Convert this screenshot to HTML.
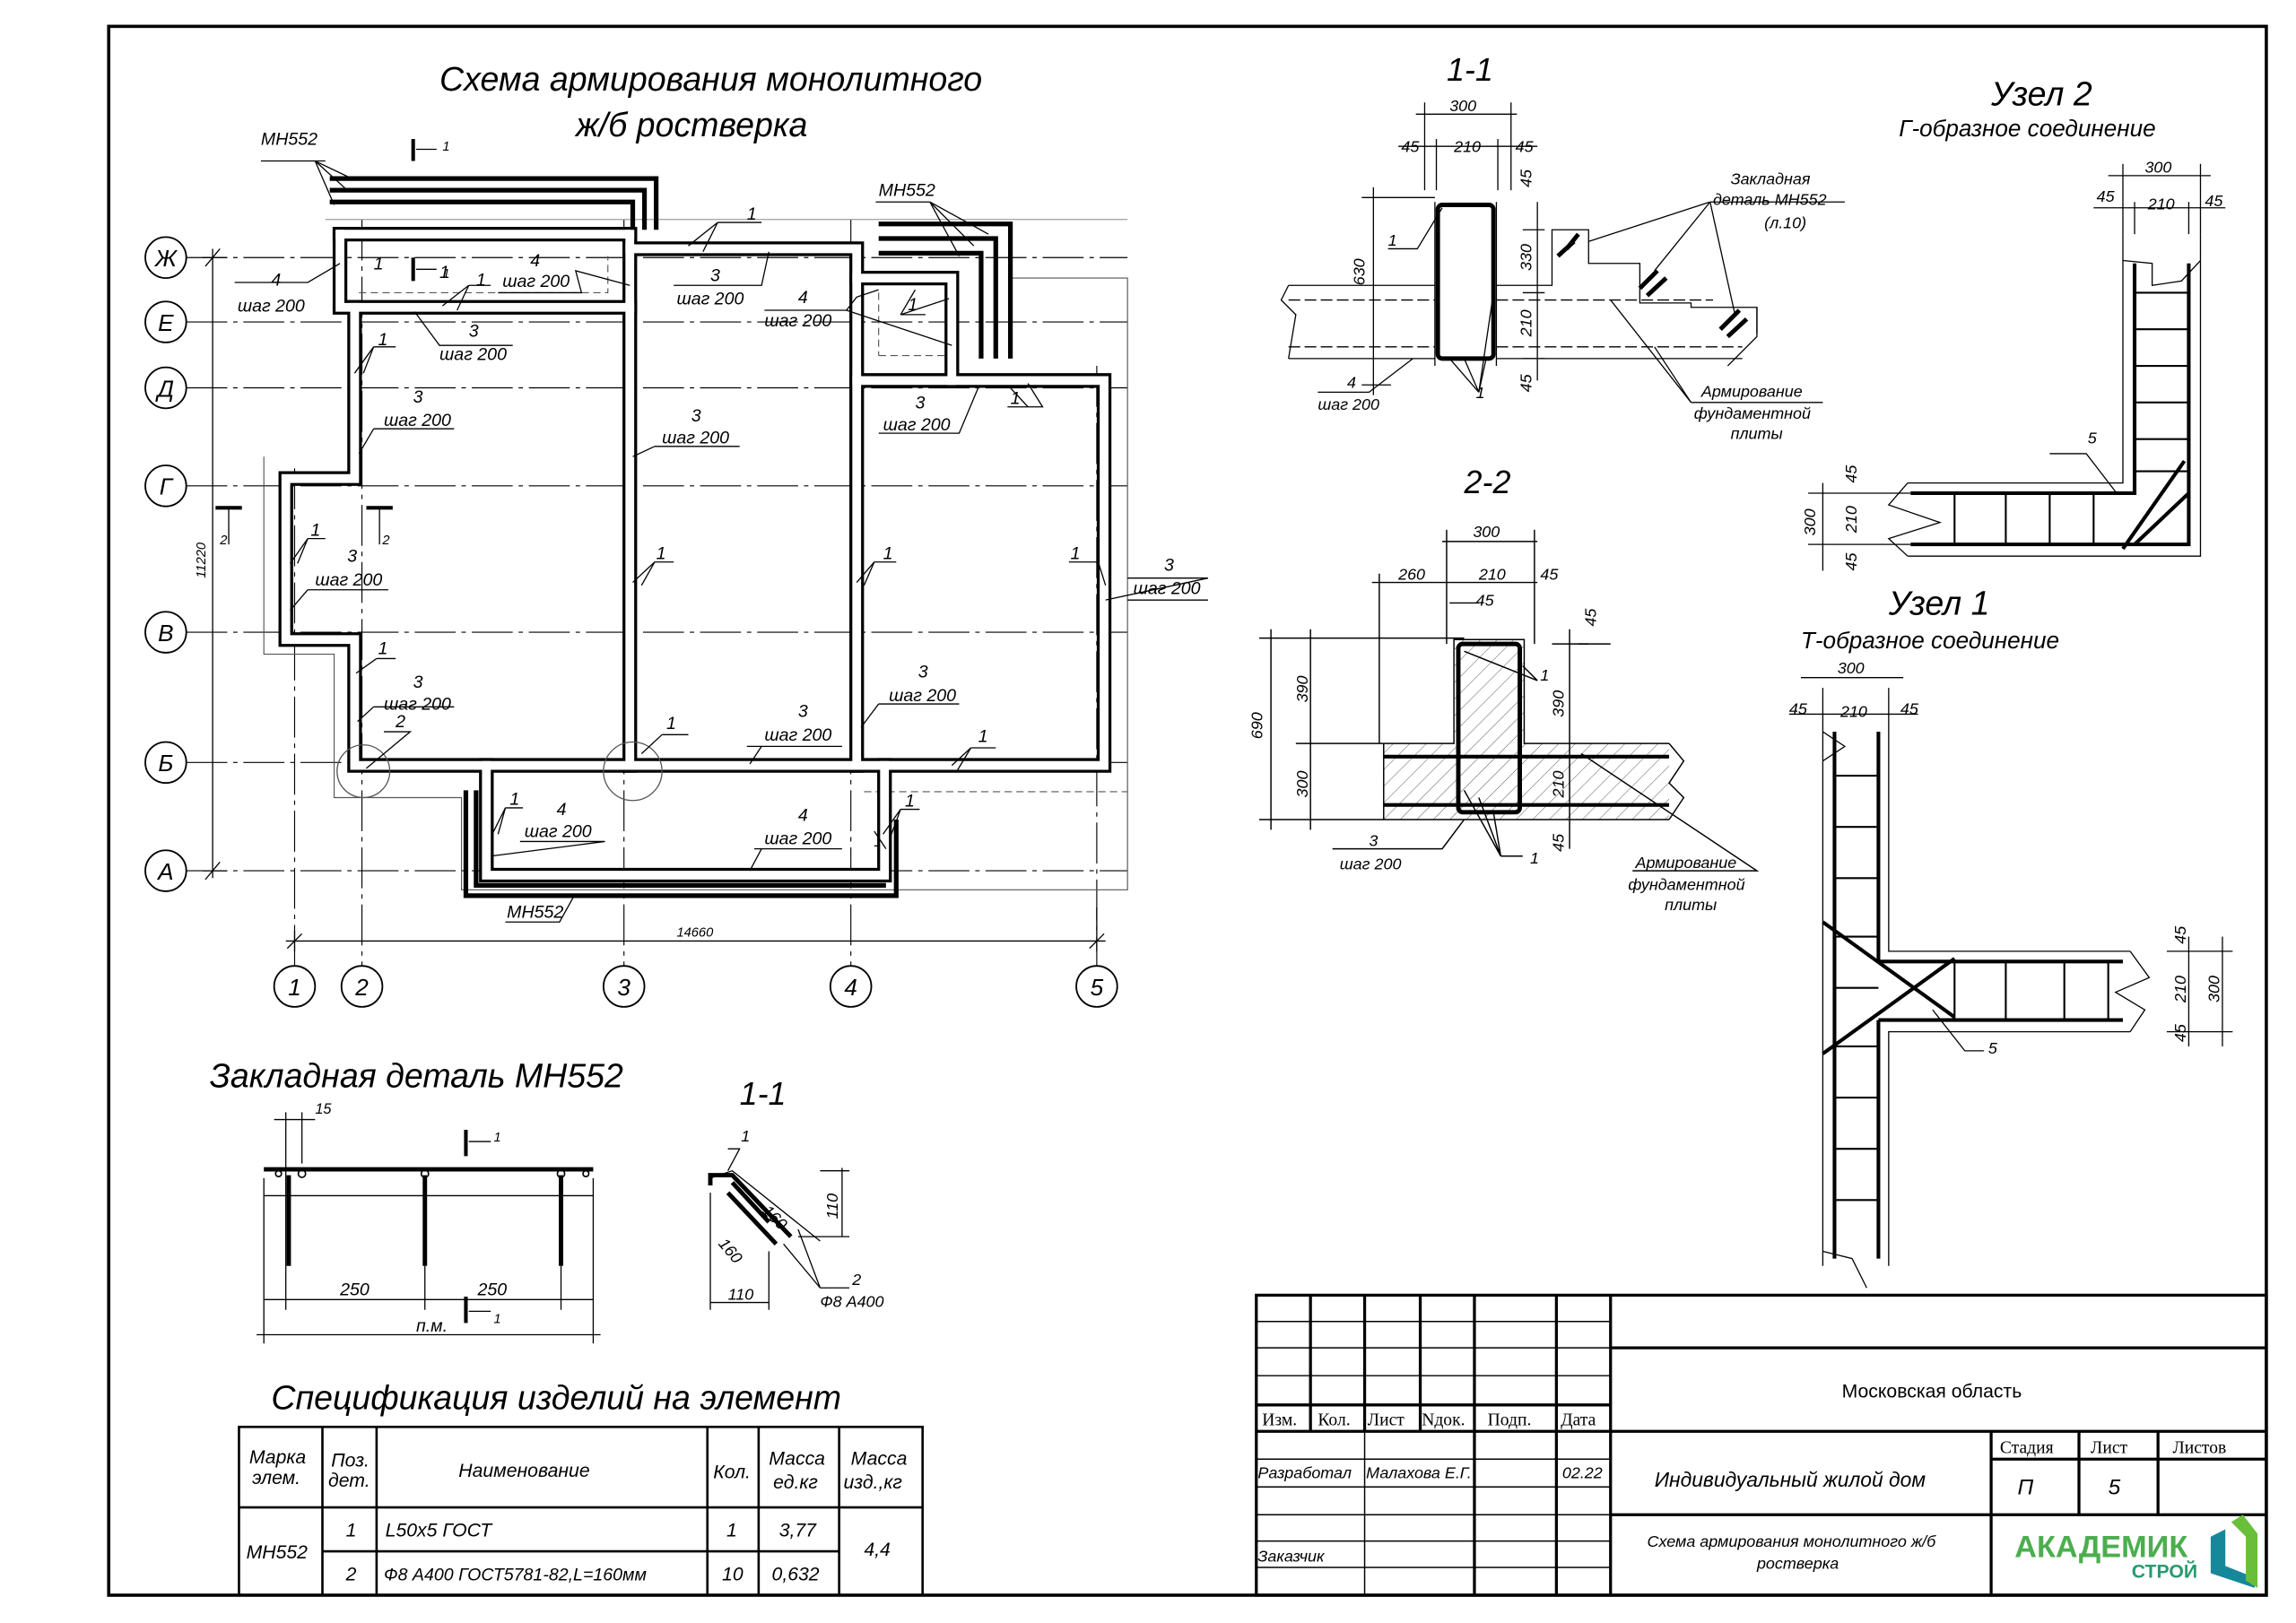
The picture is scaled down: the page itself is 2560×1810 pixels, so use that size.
<!DOCTYPE html>
<html><head><meta charset="utf-8"><style>
html,body{margin:0;padding:0;background:#fff}
svg{display:block}
text{font-family:"Liberation Sans",sans-serif;font-style:italic;fill:#000}
.t{font-family:"Liberation Serif",serif;font-style:normal}
</style></head><body>
<svg width="2560" height="1810" viewBox="0 0 1568 1109" xmlns="http://www.w3.org/2000/svg">
<defs>
<pattern id="h" width="8" height="8" patternUnits="userSpaceOnUse" patternTransform="rotate(45)"><line x1="0" y1="0" x2="0" y2="8" stroke="#555" stroke-width="0.6"/></pattern>
</defs>
<rect x="0" y="0" width="1568" height="1109" fill="#fff"/>
<!-- frame -->
<rect x="74" y="18" width="1474" height="1072" fill="none" stroke="#000" stroke-width="2.2"/>

<!-- ======== PLAN ======== -->
<text x="300" y="62" font-size="23">Схема армирования монолитного</text>
<text x="393" y="93" font-size="23">ж/б ростверка</text>

<!-- grid lines -->
<g stroke="#000" stroke-width="0.7" stroke-dasharray="28,4,3,4" fill="none">
<line x1="127" y1="176" x2="770" y2="176"/>
<line x1="127" y1="220" x2="770" y2="220"/>
<line x1="127" y1="265" x2="770" y2="265"/>
<line x1="127" y1="332" x2="770" y2="332"/>
<line x1="127" y1="432" x2="770" y2="432"/>
<line x1="127" y1="521" x2="770" y2="521"/>
<line x1="127" y1="595" x2="770" y2="595"/>
<line x1="201" y1="320" x2="201" y2="660"/>
<line x1="247" y1="150" x2="247" y2="660"/>
<line x1="426" y1="150" x2="426" y2="660"/>
<line x1="581" y1="150" x2="581" y2="660"/>
<line x1="749" y1="250" x2="749" y2="660"/>
</g>
<!-- axis circles -->
<g fill="#fff" stroke="#000" stroke-width="1.1">
<circle cx="113" cy="176" r="14"/><circle cx="113" cy="220" r="14"/><circle cx="113" cy="265" r="14"/>
<circle cx="113" cy="332" r="14"/><circle cx="113" cy="432" r="14"/><circle cx="113" cy="521" r="14"/>
<circle cx="113" cy="595" r="14"/>
<circle cx="201" cy="674" r="14"/><circle cx="247" cy="674" r="14"/><circle cx="426" cy="674" r="14"/>
<circle cx="581" cy="674" r="14"/><circle cx="749" cy="674" r="14"/>
</g>
<g font-size="16" text-anchor="middle">
<text x="113" y="182">Ж</text><text x="113" y="226">Е</text><text x="113" y="271">Д</text>
<text x="113" y="338">Г</text><text x="113" y="438">В</text><text x="113" y="527">Б</text><text x="113" y="601">А</text>
<text x="201" y="680">1</text><text x="247" y="680">2</text><text x="426" y="680">3</text><text x="581" y="680">4</text><text x="749" y="680">5</text>
</g>
<!-- dims -->
<g stroke="#000" stroke-width="0.8">
<line x1="145" y1="170" x2="145" y2="600"/><line x1="138" y1="176" x2="155" y2="176"/><line x1="138" y1="595" x2="155" y2="595"/>
<line x1="140" y1="182" x2="150" y2="170"/><line x1="140" y1="601" x2="150" y2="589"/>
<line x1="195" y1="643" x2="755" y2="643"/><line x1="201" y1="636" x2="201" y2="650"/><line x1="749" y1="620" x2="749" y2="650"/>
<line x1="196" y1="648" x2="206" y2="638"/><line x1="744" y1="648" x2="754" y2="638"/>
</g>
<text x="140" y="395" font-size="9" transform="rotate(-90 140 395)">11220</text>
<text x="462" y="640" font-size="9">14660</text>

<!-- slab outline (thin) -->
<polyline points="180,312 180,447 228,447 228,545 315,545 315,608 770,608 770,190 690,190" fill="none" stroke="#555" stroke-width="0.7"/>
<polyline points="222,150 770,150" fill="none" stroke="#777" stroke-width="0.6"/>
<line x1="600" y1="243" x2="655" y2="243" stroke="#555" stroke-width="0.7" stroke-dasharray="5,3"/>
<line x1="600" y1="200" x2="600" y2="243" stroke="#555" stroke-width="0.7" stroke-dasharray="5,3"/>
<polyline points="245,200 415,200 415,175" fill="none" stroke="#555" stroke-width="0.7" stroke-dasharray="5,3"/>
<line x1="590" y1="541" x2="770" y2="541" stroke="#555" stroke-width="0.7" stroke-dasharray="5,3"/>

<!-- walls: double lines -->
<g fill="none" stroke-linejoin="miter" stroke-linecap="square">
<g stroke="#000" stroke-width="10">
<polyline points="232,160 430,160"/><polyline points="232,160 232,210 430,210"/>
<polyline points="242,210 242,327 195,327 195,437 242,437 242,523 754,523 754,260 585,260"/>
<polyline points="430,160 430,523"/><polyline points="430,170 585,170 585,523"/>
<polyline points="585,190 650,190 650,260"/>
<polyline points="332,523 332,598 604,598 604,523"/>
</g>
<g stroke="#fff" stroke-width="6">
<polyline points="232,160 430,160"/><polyline points="232,160 232,210 430,210"/>
<polyline points="242,210 242,327 195,327 195,437 242,437 242,523 754,523 754,260 585,260"/>
<polyline points="430,160 430,523"/><polyline points="430,170 585,170 585,523"/>
<polyline points="585,190 650,190 650,260"/>
<polyline points="332,523 332,598 604,598 604,523"/>
</g>
</g>
<!-- MH552 plates thick -->
<g fill="none" stroke="#000" stroke-width="3.2">
<polyline points="225,122 448,122 448,157"/><polyline points="225,130 440,130 440,157"/><polyline points="225,138 432,138 432,157"/>
<polyline points="600,153 690,153 690,245"/><polyline points="600,163 680,163 680,245"/><polyline points="600,173 670,173 670,245"/>
<polyline points="318,540 318,612 612,612 612,560"/><polyline points="325,540 325,605 605,605"/>
</g>
<!-- section marks -->
<g stroke="#000" stroke-width="2.5"><line x1="282" y1="95" x2="282" y2="110"/><line x1="282" y1="176" x2="282" y2="192"/><line x1="147" y1="347" x2="165" y2="347"/><line x1="250" y1="347" x2="268" y2="347"/><line x1="318" y1="886" x2="318" y2="904"/><line x1="318" y1="772" x2="318" y2="790"/></g>
<g font-size="9"><text x="302" y="103">1</text><text x="302" y="190">1</text><text x="150" y="372">2</text><text x="261" y="372">2</text><text x="337" y="780">1</text><text x="337" y="904">1</text></g>
<g stroke="#000" stroke-width="0.8"><line x1="284" y1="102" x2="298" y2="102"/><line x1="284" y1="184" x2="298" y2="184"/><line x1="156" y1="348" x2="156" y2="372"/><line x1="259" y1="348" x2="259" y2="372"/><line x1="320" y1="780" x2="335" y2="780"/><line x1="320" y1="896" x2="335" y2="896"/></g>
<!-- detail circles -->
<circle cx="248" cy="527" r="18" fill="none" stroke="#555" stroke-width="0.8"/>
<circle cx="432" cy="527" r="20" fill="none" stroke="#555" stroke-width="0.8"/>

<!-- leaders + labels plan -->
<g stroke="#000" stroke-width="0.8" fill="none">
<polyline points="222,110 178,110"/><line x1="215" y1="110" x2="228" y2="140"/><line x1="215" y1="110" x2="237" y2="130"/><line x1="215" y1="110" x2="240" y2="122"/>
<polyline points="598,138 635,138"/><line x1="635" y1="138" x2="655" y2="175"/><line x1="635" y1="138" x2="665" y2="168"/><line x1="635" y1="138" x2="675" y2="160"/>
<polyline points="345,630 382,630 392,612"/>
<!-- 4 шаг 200 left -->
<polyline points="160,193 210,193 232,180"/><polyline points="340,200 397,200 393,185 430,195"/>
<polyline points="460,195 520,195 525,172"/><polyline points="490,152 520,152"/><line x1="490" y1="152" x2="480" y2="172"/><line x1="490" y1="152" x2="470" y2="168"/>
<polyline points="283,213 300,236 350,236"/><polyline points="320,195 335,195"/><line x1="320" y1="195" x2="312" y2="212"/><line x1="320" y1="195" x2="302" y2="209"/>
<polyline points="522,212 578,212 585,203 600,198"/><line x1="578" y1="212" x2="650" y2="236"/>
<polyline points="615,215 632,215"/><line x1="615" y1="215" x2="625" y2="198"/><line x1="615" y1="215" x2="648" y2="204"/>
<polyline points="255,237 270,237"/><line x1="255" y1="237" x2="242" y2="255"/><line x1="255" y1="237" x2="248" y2="255"/>
<polyline points="255,293 310,293"/><line x1="255" y1="293" x2="245" y2="310"/>
<polyline points="447,305 505,305"/><line x1="447" y1="305" x2="432" y2="312"/>
<polyline points="600,296 655,296 668,265"/><polyline points="688,278 712,278 702,262"/><line x1="702" y1="278" x2="690" y2="265"/>
<polyline points="210,368 222,368"/><line x1="210" y1="368" x2="198" y2="385"/><line x1="210" y1="368" x2="203" y2="385"/>
<polyline points="210,403 265,403"/><line x1="210" y1="403" x2="198" y2="417"/>
<polyline points="447,384 460,384"/><line x1="447" y1="384" x2="432" y2="398"/><line x1="447" y1="384" x2="438" y2="400"/>
<polyline points="597,384 612,384"/><line x1="597" y1="384" x2="585" y2="398"/><line x1="597" y1="384" x2="590" y2="400"/>
<polyline points="730,384 750,384 755,400"/>
<polyline points="770,395 825,395 755,410"/><polyline points="770,410 825,410"/>
<polyline points="257,450 270,450"/><line x1="257" y1="450" x2="243" y2="460"/>
<polyline points="255,483 310,483"/><line x1="255" y1="483" x2="244" y2="493"/>
<polyline points="262,500 280,500 250,525"/>
<polyline points="600,481 655,481"/><line x1="600" y1="481" x2="588" y2="497"/>
<polyline points="510,510 575,510"/><line x1="520" y1="510" x2="512" y2="522"/>
<polyline points="452,502 470,502"/><line x1="452" y1="502" x2="438" y2="515"/>
<polyline points="663,511 680,511"/><line x1="663" y1="511" x2="654" y2="526"/><line x1="663" y1="511" x2="650" y2="523"/>
<polyline points="345,552 357,552"/><line x1="345" y1="552" x2="336" y2="570"/><line x1="345" y1="552" x2="340" y2="570"/>
<polyline points="355,575 413,575 335,585"/>
<polyline points="515,580 575,580"/><line x1="520" y1="580" x2="512" y2="595"/>
<polyline points="615,553 628,553"/><line x1="615" y1="553" x2="603" y2="570"/><line x1="615" y1="553" x2="608" y2="572"/>
<polyline points="597,578 600,578"/><line x1="597" y1="568" x2="605" y2="580"/>
</g>
<g font-size="12">
<text x="178" y="99">МН552</text><text x="600" y="134">МН552</text><text x="346" y="627">МН552</text>
<text x="185" y="195">4</text><text x="162" y="213">шаг 200</text>
<text x="362" y="182">4</text><text x="343" y="196">шаг 200</text>
<text x="485" y="192">3</text><text x="462" y="208">шаг 200</text>
<text x="510" y="150">1</text><text x="325" y="195">1</text><text x="255" y="184">1</text><text x="300" y="190">1</text>
<text x="320" y="230">3</text><text x="300" y="246">шаг 200</text>
<text x="545" y="207">4</text><text x="522" y="223">шаг 200</text><text x="620" y="212">1</text>
<text x="258" y="236">1</text>
<text x="282" y="275">3</text><text x="262" y="291">шаг 200</text>
<text x="472" y="288">3</text><text x="452" y="303">шаг 200</text>
<text x="625" y="279">3</text><text x="603" y="294">шаг 200</text><text x="690" y="276">1</text>
<text x="212" y="366">1</text><text x="237" y="384">3</text><text x="215" y="400">шаг 200</text>
<text x="448" y="382">1</text><text x="603" y="382">1</text><text x="731" y="382">1</text>
<text x="795" y="390">3</text><text x="774" y="406">шаг 200</text>
<text x="258" y="447">1</text><text x="282" y="470">3</text><text x="262" y="485">шаг 200</text>
<text x="270" y="497">2</text><text x="455" y="498">1</text>
<text x="627" y="463">3</text><text x="607" y="479">шаг 200</text>
<text x="545" y="490">3</text><text x="522" y="506">шаг 200</text><text x="668" y="507">1</text>
<text x="348" y="550">1</text><text x="380" y="557">4</text><text x="358" y="572">шаг 200</text>
<text x="545" y="561">4</text><text x="522" y="577">шаг 200</text><text x="618" y="551">1</text>
</g>

<!-- ======== SECTION 1-1 (top) ======== -->
<text x="988" y="55" font-size="22">1-1</text>
<g stroke="#000" stroke-width="0.8" fill="none">
<line x1="967" y1="78" x2="1036" y2="78"/><line x1="955" y1="100" x2="1050" y2="100"/>
<line x1="973" y1="70" x2="973" y2="130"/><line x1="1032" y1="70" x2="1032" y2="130"/><line x1="981" y1="95" x2="981" y2="130"/><line x1="1023" y1="95" x2="1023" y2="130"/>
<line x1="938" y1="128" x2="938" y2="270"/><line x1="930" y1="135" x2="980" y2="135"/><line x1="930" y1="263" x2="950" y2="263"/>
<line x1="1050" y1="138" x2="1050" y2="260"/><line x1="1040" y1="157" x2="1055" y2="157"/><line x1="1040" y1="200" x2="1055" y2="200"/><line x1="1040" y1="245" x2="1055" y2="245"/>
<!-- slab -->
<polyline points="880,195 980,195"/><polyline points="880,245 980,245"/>
<polyline points="1022,195 1060,195 1060,157 1085,157 1085,180 1120,180 1120,207 1155,207 1155,210 1200,210 1200,230 1180,250"/>
<polyline points="1022,245 1190,245"/>
<polyline points="880,195 875,205 885,215 880,245"/>
<polyline points="1200,210 1200,228"/>
<line x1="880" y1="205" x2="980" y2="205" stroke-dasharray="8,3"/><line x1="880" y1="237" x2="980" y2="237" stroke-dasharray="8,3"/>
<line x1="1022" y1="205" x2="1170" y2="205" stroke-dasharray="8,3"/><line x1="1022" y1="237" x2="1190" y2="237" stroke-dasharray="8,3"/>
<line x1="980" y1="138" x2="980" y2="250"/><line x1="1022" y1="138" x2="1022" y2="250"/>
<!-- leaders -->
<polyline points="1168,138 1260,138"/><line x1="1168" y1="138" x2="1085" y2="165"/><line x1="1168" y1="138" x2="1130" y2="185"/><line x1="1168" y1="138" x2="1185" y2="215"/>
<polyline points="948,170 968,170 985,142"/>
<polyline points="900,268 935,268 965,245"/>
<polyline points="1155,275 1245,275"/><line x1="1155" y1="275" x2="1100" y2="205"/><line x1="1155" y1="275" x2="1130" y2="237"/>
<line x1="1010" y1="268" x2="990" y2="245"/><line x1="1010" y1="268" x2="1000" y2="245"/><line x1="1010" y1="268" x2="1015" y2="245"/><line x1="1010" y1="268" x2="1020" y2="200"/>
</g>
<rect x="982" y="140" width="38" height="105" rx="3" fill="none" stroke="#000" stroke-width="3"/>
<g stroke="#000" stroke-width="3"><line x1="1070" y1="170" x2="1078" y2="160"/><line x1="1064" y1="175" x2="1075" y2="165"/><line x1="1120" y1="197" x2="1132" y2="185"/><line x1="1125" y1="202" x2="1138" y2="190"/><line x1="1175" y1="225" x2="1188" y2="212"/><line x1="1180" y1="230" x2="1193" y2="218"/></g>
<g font-size="11">
<text x="990" y="76">300</text><text x="957" y="104">45</text><text x="993" y="104">210</text><text x="1035" y="104">45</text>
<text x="932" y="195" transform="rotate(-90 932 195)">630</text>
<text x="1046" y="185" transform="rotate(-90 1046 185)">330</text><text x="1046" y="230" transform="rotate(-90 1046 230)">210</text>
<text x="1046" y="128" transform="rotate(-90 1046 128)">45</text><text x="1046" y="268" transform="rotate(-90 1046 268)">45</text>
<text x="948" y="168">1</text><text x="920" y="265">4</text><text x="900" y="280">шаг 200</text><text x="1008" y="272">1</text>
<text x="1182" y="126">Закладная</text><text x="1170" y="140">деталь МН552</text><text x="1205" y="156">(л.10)</text>
<text x="1162" y="271">Армирование</text><text x="1157" y="286">фундаментной</text><text x="1182" y="300">плиты</text>
</g>

<!-- ======== SECTION 2-2 ======== -->
<text x="1000" y="337" font-size="22">2-2</text>
<rect x="945" y="508" width="195" height="52" fill="url(#h)" stroke="none"/>
<rect x="993" y="437" width="48" height="71" fill="url(#h)" stroke="none"/>
<g stroke="#000" stroke-width="0.9" fill="none">
<polyline points="945,508 993,508 993,437 1041,437 1041,508 1140,508"/>
<polyline points="945,508 945,560 1140,560"/>
<line x1="945" y1="517" x2="1140" y2="517" stroke-width="2.5"/><line x1="945" y1="550" x2="1140" y2="550" stroke-width="2.5"/>
<line x1="860" y1="436" x2="1000" y2="436"/><line x1="860" y1="560" x2="945" y2="560"/><line x1="885" y1="508" x2="945" y2="508"/>
<line x1="868" y1="430" x2="868" y2="567"/><line x1="895" y1="430" x2="895" y2="567"/>
<line x1="937" y1="398" x2="1050" y2="398"/><line x1="985" y1="370" x2="1050" y2="370"/><line x1="990" y1="412" x2="1010" y2="412"/>
<line x1="942" y1="392" x2="942" y2="508"/><line x1="988" y1="362" x2="988" y2="440"/><line x1="1048" y1="362" x2="1048" y2="440"/>
<line x1="1072" y1="430" x2="1072" y2="580"/>
<polyline points="1078,440 1100,440"/><line x1="1060" y1="440" x2="1085" y2="440"/>
<polyline points="910,580 985,580 1000,560"/>
<polyline points="1025,585 1040,585"/><line x1="1025" y1="585" x2="1000" y2="540"/><line x1="1025" y1="585" x2="1010" y2="545"/><line x1="1025" y1="585" x2="1020" y2="555"/>
<polyline points="1115,595 1200,595 1080,515"/>
<polyline points="1050,465 1040,455"/><line x1="1050" y1="465" x2="1000" y2="445"/>
<polyline points="1140,508 1150,520 1140,535 1150,545 1140,560"/>
</g>
<rect x="996" y="440" width="42" height="115" rx="3" fill="none" stroke="#000" stroke-width="3"/>
<g font-size="11">
<text x="1006" y="367">300</text><text x="955" y="396">260</text><text x="1010" y="396">210</text><text x="1052" y="396">45</text><text x="1008" y="414">45</text>
<text x="862" y="505" transform="rotate(-90 862 505)">690</text><text x="893" y="480" transform="rotate(-90 893 480)">390</text><text x="893" y="545" transform="rotate(-90 893 545)">300</text>
<text x="1068" y="490" transform="rotate(-90 1068 490)">390</text><text x="1068" y="545" transform="rotate(-90 1068 545)">210</text><text x="1068" y="582" transform="rotate(-90 1068 582)">45</text><text x="1090" y="428" transform="rotate(-90 1090 428)">45</text>
<text x="1052" y="465">1</text><text x="935" y="578">3</text><text x="915" y="594">шаг 200</text><text x="1045" y="590">1</text>
<text x="1117" y="593">Армирование</text><text x="1112" y="608">фундаментной</text><text x="1137" y="622">плиты</text>
</g>

<!-- ======== УЗЕЛ 2 ======== -->
<text x="1360" y="72" font-size="23">Узел 2</text>
<text x="1297" y="93" font-size="16">Г-образное соединение</text>
<g stroke="#000" stroke-width="0.8" fill="none">
<polyline points="1450,160 1450,330 1303,330"/><polyline points="1503,160 1503,380 1303,380"/>
<line x1="1440" y1="120" x2="1510" y2="120"/><line x1="1430" y1="142" x2="1520" y2="142"/>
<line x1="1450" y1="112" x2="1450" y2="160"/><line x1="1503" y1="112" x2="1503" y2="160"/><line x1="1458" y1="138" x2="1458" y2="160"/><line x1="1495" y1="138" x2="1495" y2="160"/>
<polyline points="1450,178 1470,180 1470,195 1490,192 1503,178"/>
<line x1="1245" y1="330" x2="1245" y2="390"/><line x1="1235" y1="337" x2="1305" y2="337"/><line x1="1235" y1="372" x2="1305" y2="372"/>
<polyline points="1303,330 1290,345 1325,357 1290,368 1303,380"/>
<polyline points="1400,310 1425,310 1445,336"/>
</g>
<g stroke="#000" stroke-width="2.5" fill="none">
<polyline points="1458,180 1458,337 1305,337"/><polyline points="1495,180 1495,372 1305,372"/>
<line x1="1458" y1="372" x2="1495" y2="337"/><line x1="1450" y1="375" x2="1492" y2="315"/>
</g>
<g stroke="#000" stroke-width="1.3">
<line x1="1458" y1="200" x2="1495" y2="200"/><line x1="1458" y1="225" x2="1495" y2="225"/><line x1="1458" y1="250" x2="1495" y2="250"/><line x1="1458" y1="275" x2="1495" y2="275"/><line x1="1458" y1="300" x2="1495" y2="300"/><line x1="1458" y1="322" x2="1495" y2="322"/>
<line x1="1335" y1="337" x2="1335" y2="372"/><line x1="1370" y1="337" x2="1370" y2="372"/><line x1="1400" y1="337" x2="1400" y2="372"/><line x1="1430" y1="337" x2="1430" y2="372"/>
</g>
<g font-size="11">
<text x="1465" y="118">300</text><text x="1432" y="138">45</text><text x="1467" y="143">210</text><text x="1506" y="141">45</text>
<text x="1426" y="303">5</text>
<text x="1240" y="366" transform="rotate(-90 1240 366)">300</text><text x="1268" y="364" transform="rotate(-90 1268 364)">210</text><text x="1268" y="330" transform="rotate(-90 1268 330)">45</text><text x="1268" y="390" transform="rotate(-90 1268 390)">45</text>
</g>

<!-- ======== УЗЕЛ 1 ======== -->
<text x="1290" y="420" font-size="23">Узел 1</text>
<text x="1230" y="443" font-size="16">Т-образное соединение</text>
<g stroke="#000" stroke-width="0.8" fill="none">
<line x1="1230" y1="463" x2="1300" y2="463"/><line x1="1222" y1="488" x2="1310" y2="488"/>
<polyline points="1245,470 1245,865"/><polyline points="1290,470 1290,650 1455,650"/><polyline points="1290,865 1290,705 1455,705"/>
<polyline points="1245,500 1260,510 1245,520"/><polyline points="1245,855 1265,860 1275,880"/>
<polyline points="1455,650 1468,668 1445,678 1465,690 1455,705"/>
<line x1="1480" y1="650" x2="1525" y2="650"/><line x1="1480" y1="705" x2="1525" y2="705"/><line x1="1495" y1="640" x2="1495" y2="715"/><line x1="1518" y1="640" x2="1518" y2="715"/>
<polyline points="1355,718 1342,718 1320,690"/>
</g>
<g stroke="#000" stroke-width="2.5" fill="none">
<line x1="1253" y1="500" x2="1253" y2="860"/><line x1="1283" y1="500" x2="1283" y2="657"/><line x1="1283" y1="697" x2="1283" y2="860"/>
<line x1="1283" y1="657" x2="1450" y2="657"/><line x1="1283" y1="697" x2="1450" y2="697"/>
<line x1="1245" y1="630" x2="1335" y2="695"/><line x1="1245" y1="720" x2="1335" y2="655"/>
</g>
<g stroke="#000" stroke-width="1.3">
<line x1="1253" y1="530" x2="1283" y2="530"/><line x1="1253" y1="565" x2="1283" y2="565"/><line x1="1253" y1="600" x2="1283" y2="600"/><line x1="1253" y1="640" x2="1283" y2="640"/><line x1="1253" y1="675" x2="1283" y2="675"/><line x1="1253" y1="715" x2="1283" y2="715"/><line x1="1253" y1="750" x2="1283" y2="750"/><line x1="1253" y1="785" x2="1283" y2="785"/><line x1="1253" y1="820" x2="1283" y2="820"/>
<line x1="1335" y1="657" x2="1335" y2="697"/><line x1="1370" y1="657" x2="1370" y2="697"/><line x1="1410" y1="657" x2="1410" y2="697"/><line x1="1440" y1="657" x2="1440" y2="697"/>
</g>
<g font-size="11">
<text x="1255" y="460">300</text><text x="1222" y="488">45</text><text x="1257" y="490">210</text><text x="1298" y="488">45</text>
<text x="1358" y="720">5</text>
<text x="1493" y="645" transform="rotate(-90 1493 645)">45</text><text x="1493" y="685" transform="rotate(-90 1493 685)">210</text><text x="1493" y="712" transform="rotate(-90 1493 712)">45</text><text x="1516" y="685" transform="rotate(-90 1516 685)">300</text>
</g>

<!-- ======== ЗАКЛАДНАЯ ДЕТАЛЬ ======== -->
<text x="143" y="743" font-size="23">Закладная деталь МН552</text>
<g stroke="#000" stroke-width="0.8" fill="none">
<line x1="180" y1="817" x2="405" y2="817"/>
<line x1="180" y1="888" x2="405" y2="888"/><line x1="175" y1="912" x2="410" y2="912"/>
<line x1="195" y1="760" x2="195" y2="895"/><line x1="290" y1="865" x2="290" y2="895"/><line x1="383" y1="865" x2="383" y2="895"/>
<line x1="180" y1="805" x2="180" y2="918"/><line x1="405" y1="805" x2="405" y2="918"/>
<line x1="187" y1="765" x2="215" y2="765"/><line x1="206" y1="760" x2="206" y2="795"/>
</g>
<line x1="180" y1="799" x2="405" y2="799" stroke="#000" stroke-width="3"/>
<g stroke="#000" stroke-width="3"><line x1="197" y1="803" x2="197" y2="865"/><line x1="290" y1="803" x2="290" y2="865"/><line x1="383" y1="803" x2="383" y2="865"/></g>
<g fill="none" stroke="#000" stroke-width="1"><circle cx="206" cy="802" r="2.5"/><circle cx="290" cy="802" r="2.5"/><circle cx="383" cy="802" r="2.5"/><circle cx="190" cy="802" r="2"/><circle cx="400" cy="802" r="2"/></g>
<g font-size="12"><text x="215" y="761" font-size="10">15</text><text x="232" y="885">250</text><text x="326" y="885">250</text><text x="284" y="910">п.м.</text></g>

<text x="505" y="755" font-size="22">1-1</text>
<g stroke="#000" stroke-width="0.8" fill="none">
<polyline points="485,805 500,800 560,848"/>
<polyline points="497,785 505,785 497,800"/>
<line x1="575" y1="798" x2="575" y2="845"/><line x1="560" y1="800" x2="580" y2="800"/><line x1="545" y1="845" x2="580" y2="845"/>
<line x1="485" y1="890" x2="525" y2="890"/><line x1="485" y1="815" x2="485" y2="895"/><line x1="525" y1="855" x2="525" y2="895"/>
<polyline points="580,880 560,880"/><line x1="560" y1="880" x2="535" y2="850"/><line x1="560" y1="880" x2="545" y2="840"/>
</g>
<g stroke="#000" stroke-width="3" fill="none"><polyline points="485,810 485,803 500,803 540,845"/><line x1="497" y1="815" x2="530" y2="850"/><line x1="500" y1="808" x2="525" y2="835"/></g>
<g font-size="11"><text x="506" y="780">1</text><text x="520" y="828" transform="rotate(45 520 828)">160</text><text x="490" y="850" transform="rotate(50 490 850)">160</text><text x="572" y="833" transform="rotate(-90 572 833)">110</text><text x="497" y="888">110</text><text x="582" y="878">2</text><text x="560" y="893">Ф8 А400</text></g>

<!-- ======== SPEC TABLE ======== -->
<text x="185" y="963" font-size="23">Спецификация изделий на элемент</text>
<g stroke="#000" stroke-width="1.6" fill="none">
<rect x="163" y="975" width="467" height="115"/>
<line x1="220" y1="975" x2="220" y2="1090"/><line x1="257" y1="975" x2="257" y2="1090"/><line x1="483" y1="975" x2="483" y2="1090"/><line x1="518" y1="975" x2="518" y2="1090"/><line x1="573" y1="975" x2="573" y2="1090"/>
<line x1="163" y1="1030" x2="630" y2="1030"/><line x1="220" y1="1060" x2="573" y2="1060"/>
</g>
<g font-size="13">
<text x="170" y="1000">Марка</text><text x="172" y="1014">элем.</text><text x="226" y="1002">Поз.</text><text x="224" y="1016">дет.</text>
<text x="313" y="1009">Наименование</text><text x="487" y="1010">Кол.</text>
<text x="525" y="1001">Масса</text><text x="528" y="1017">ед.кг</text><text x="581" y="1001">Масса</text><text x="576" y="1017">изд.,кг</text>
<text x="168" y="1065">МН552</text><text x="236" y="1050">1</text><text x="236" y="1080">2</text>
<text x="263" y="1050">L50x5 ГОСТ</text><text x="262" y="1080" font-size="12">Ф8 А400 ГОСТ5781-82,L=160мм</text>
<text x="496" y="1050">1</text><text x="493" y="1080">10</text><text x="532" y="1050">3,77</text><text x="527" y="1080">0,632</text><text x="590" y="1063">4,4</text>
</g>

<!-- ======== TITLE BLOCK ======== -->
<g stroke="#000" stroke-width="2" fill="none">
<rect x="858" y="885" width="690" height="205"/>
<line x1="1100" y1="885" x2="1100" y2="1090"/>
<line x1="1100" y1="921" x2="1548" y2="921"/><line x1="858" y1="978" x2="1548" y2="978"/><line x1="858" y1="960" x2="1100" y2="960"/><line x1="1100" y1="1035" x2="1548" y2="1035"/>
<line x1="1360" y1="978" x2="1360" y2="1090"/><line x1="1420" y1="978" x2="1420" y2="1035"/><line x1="1474" y1="978" x2="1474" y2="1035"/><line x1="1360" y1="997" x2="1548" y2="997"/>
<line x1="895" y1="885" x2="895" y2="978"/><line x1="932" y1="885" x2="932" y2="978"/><line x1="970" y1="885" x2="970" y2="978"/><line x1="1007" y1="885" x2="1007" y2="1090"/><line x1="1063" y1="885" x2="1063" y2="1090"/>
</g>
<g stroke="#000" stroke-width="0.9">
<line x1="858" y1="903" x2="1100" y2="903"/><line x1="858" y1="921" x2="1100" y2="921"/><line x1="858" y1="940" x2="1100" y2="940"/>
<line x1="858" y1="997" x2="1100" y2="997"/><line x1="858" y1="1016" x2="1100" y2="1016"/><line x1="858" y1="1035" x2="1100" y2="1035"/><line x1="858" y1="1053" x2="1100" y2="1053"/><line x1="858" y1="1071" x2="1100" y2="1071"/>
<line x1="932" y1="978" x2="932" y2="1090"/>
</g>
<g class="t" font-size="12">
<text class="t" x="862" y="974">Изм.</text><text class="t" x="900" y="974">Кол.</text><text class="t" x="934" y="974">Лист</text><text class="t" x="971" y="974">Nдок.</text><text class="t" x="1016" y="974">Подп.</text><text class="t" x="1066" y="974">Дата</text>
<text class="t" x="1366" y="993">Стадия</text><text class="t" x="1428" y="993">Лист</text><text class="t" x="1484" y="993">Листов</text>
</g>
<g font-size="11"><text x="859" y="1010">Разработал</text><text x="933" y="1010">Малахова Е.Г.</text><text x="1067" y="1010">02.22</text><text x="859" y="1067">Заказчик</text></g>
<text x="1258" y="955" font-size="13" style="font-style:normal">Московская область</text>
<text x="1130" y="1016" font-size="14">Индивидуальный жилой дом</text>
<text x="1125" y="1057" font-size="11">Схема армирования монолитного ж/б</text>
<text x="1200" y="1072" font-size="11">ростверка</text>
<text x="1378" y="1021" font-size="15">П</text><text x="1440" y="1021" font-size="15">5</text>
<!-- logo -->
<text x="1376" y="1064" font-size="21" font-weight="bold" style="font-style:normal;fill:#4cae4f">АКАДЕМИК</text>
<text x="1456" y="1078" font-size="13" font-weight="bold" style="font-style:normal;fill:#2a9a6e">СТРОЙ</text>
<polygon points="1510,1050 1520,1045 1520,1070 1540,1078 1540,1085 1510,1075" fill="#17879a"/>
<polygon points="1524,1040 1532,1035 1542,1048 1542,1085 1534,1080 1534,1050" fill="#6abf3a"/>
</svg>
</body></html>
